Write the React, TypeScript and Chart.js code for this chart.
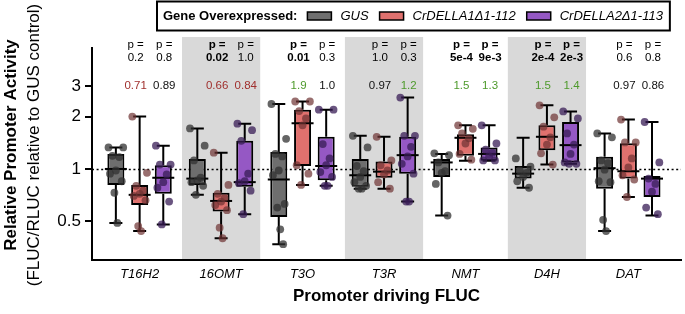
import React, { useEffect, useRef } from 'react';
import { Chart, registerables } from 'chart.js';

Chart.register(...registerables);

const categories = ['T16H2', '16OMT', 'T3O', 'T3R', 'NMT', 'D4H', 'DAT'];
const shadedCategories = ['16OMT', 'T3R', 'D4H'];
const seriesNames = ['GUS', 'CrDELLA1Δ1-112', 'CrDELLA2Δ1-113'];
const legendTitle = 'Gene Overexpressed:';
const yTickValues = [0.5, 1, 2, 3];
const xTitle = 'Promoter driving FLUC';
const yTitle1 = 'Relative Promoter Activity';
const yTitle2 = '(FLUC/RLUC relative to GUS control)';

// [min, q1, median, q3, max]
const gusBoxes = [
  [0.49, 0.81, 1.0, 1.22, 1.33],
  [0.71, 0.81, 0.88, 1.14, 1.71],
  [0.37, 0.53, 0.87, 1.25, 2.36],
  [0.77, 0.79, 0.92, 1.14, 1.55],
  [0.54, 0.9, 1.09, 1.14, 1.22],
  [0.78, 0.88, 0.94, 1.04, 1.51],
  [0.44, 0.77, 1.01, 1.175, 1.6],
];
const della1Boxes = [
  [0.44, 0.62, 0.71, 0.81, 2.0],
  [0.4, 0.57, 0.655, 0.73, 1.24],
  [0.81, 1.04, 1.83, 2.19, 2.44],
  [0.77, 0.89, 0.965, 1.105, 1.53],
  [1.115, 1.19, 1.51, 1.58, 1.78],
  [1.06, 1.28, 1.53, 1.78, 2.32],
  [0.69, 0.88, 0.97, 1.405, 1.92],
];
const della2Boxes = [
  [0.48, 0.72, 0.89, 1.05, 1.36],
  [0.55, 0.79, 0.84, 1.45, 1.82],
  [0.8, 0.86, 1.04, 1.53, 2.19],
  [0.65, 0.94, 1.2, 1.53, 2.57],
  [1.115, 1.115, 1.22, 1.33, 1.78],
  [1.07, 1.09, 1.37, 1.86, 2.14],
  [0.54, 0.69, 0.88, 0.91, 1.86],
];

// individual replicates
const gusPoints = [
  [1.33, 1.33, 1.19, 1.17, 0.98, 0.94, 0.85, 0.73, 0.49],
  [1.71, 1.36, 1.12, 0.89, 0.86, 0.84, 0.8, 0.71],
  [2.36, 1.49, 1.22, 1.18, 0.98, 0.92, 0.63, 0.6, 0.45, 0.37],
  [1.55, 1.33, 1.04, 0.97, 0.9, 0.84, 0.8, 0.77, 0.77],
  [1.23, 1.2, 1.09, 0.97, 0.95, 0.82, 0.54],
  [1.15, 1.03, 0.98, 0.95, 0.9, 0.85, 0.78],
  [1.6, 1.52, 1.12, 1.08, 0.99, 0.85, 0.84, 0.51, 0.44],
];
const della1Points = [
  [2.0, 0.95, 0.8, 0.75, 0.72, 0.7, 0.66, 0.47, 0.44],
  [1.24, 0.81, 0.72, 0.68, 0.65, 0.62, 0.58, 0.46, 0.4],
  [2.44, 2.44, 2.15, 1.95, 1.78, 1.05, 0.94, 0.81],
  [1.53, 1.12, 1.05, 0.98, 0.93, 0.84, 0.77],
  [1.78, 1.7, 1.6, 1.5, 1.4, 1.22, 1.13],
  [2.32, 1.98, 1.75, 1.52, 1.38, 1.23, 1.06],
  [1.92, 1.42, 1.42, 1.15, 1.02, 0.92, 0.87, 0.69],
];
const della2Points = [
  [1.36, 1.06, 1.06, 0.93, 0.84, 0.78, 0.65, 0.48],
  [1.82, 1.67, 1.45, 0.94, 0.85, 0.83, 0.75, 0.55],
  [2.19, 2.19, 1.39, 1.15, 1.05, 0.96, 0.9, 0.8, 0.8],
  [2.57, 1.55, 1.55, 1.34, 1.18, 1.07, 0.94, 0.65, 0.65],
  [1.78, 1.4, 1.29, 1.24, 1.18, 1.12, 1.12],
  [2.14, 1.95, 1.6, 1.38, 1.22, 1.09, 1.07, 1.07],
  [1.86, 1.09, 0.88, 0.82, 0.74, 0.6, 0.55],
];

const pDella1 = ['0.2', '0.02', '0.01', '1.0', '5e-4', '2e-4', '0.6'];
const pDella2 = ['0.8', '1.0', '0.3', '0.3', '9e-3', '2e-3', '0.8'];
const foldDella1 = ['0.71', '0.66', '1.9', '0.97', '1.5', '1.5', '0.97'];
const foldDella2 = ['0.89', '0.84', '1.0', '1.2', '1.3', '1.4', '0.86'];
const foldDella1Dir = ['down', 'down', 'up', 'ns', 'up', 'up', 'ns'];
const foldDella2Dir = ['ns', 'down', 'ns', 'up', 'up', 'up', 'ns'];

const FONT = '"Liberation Sans", Arial, sans-serif';
const OFFSETS = [-0.292, 0, 0.29];
const LABEL_SHIFT = [0, -4, 1];
const BOX_W = 22;
const CAP_W = 13;
const BAND_HALF = 0.48;
const FILLS = ['#6e6e6e', '#e0716e', '#9558c4'];
const DOTS = ['rgba(50,50,50,0.75)', 'rgba(110,50,50,0.7)', 'rgba(56,28,86,0.75)'];
const JITTER = [-0.75, 0.75, -0.35, 0.35, 0, -0.6, 0.6, -0.15, 0.15, 0.45];
const JITTER_SCALE = 0.12;
const FOLD_COLORS: Record<string, string> = { down: '#a0302e', up: '#4e9a2c', ns: '#111111' };

const allBoxes = [gusBoxes, della1Boxes, della2Boxes];
const allPoints = [gusPoints, della1Points, della2Points];

const boxPlugin = {
  id: 'boxExtras',
  beforeDraw(chart: any) {
    const { ctx, chartArea, scales } = chart;
    const x = scales.x;
    ctx.save();
    ctx.fillStyle = '#d9d9d9';
    shadedCategories.forEach((c) => {
      const i = categories.indexOf(c) + 1;
      const l = x.getPixelForValue(i - BAND_HALF);
      const r = x.getPixelForValue(i + BAND_HALF);
      ctx.fillRect(l, chartArea.top - 11, r - l, chartArea.bottom - chartArea.top + 11);
    });
    ctx.restore();
  },
  beforeDatasetsDraw(chart: any) {
    const { ctx, chartArea, scales } = chart;
    const x = scales.x;
    const y = scales.y;
    ctx.save();
    ctx.strokeStyle = '#000';
    ctx.lineWidth = 1.6;
    ctx.setLineDash([2, 2.6]);
    const y1 = Math.round(y.getPixelForValue(1)) + 0.5;
    ctx.beginPath();
    ctx.moveTo(chartArea.left, y1);
    ctx.lineTo(chartArea.right, y1);
    ctx.stroke();
    ctx.setLineDash([]);
    ctx.lineWidth = 2;
    allBoxes.forEach((b, s) => {
      b.forEach((st, i) => {
        const px = x.getPixelForValue(i + 1 + OFFSETS[s]);
        const pMin = y.getPixelForValue(st[0]);
        const pQ1 = y.getPixelForValue(st[1]);
        const pQ3 = y.getPixelForValue(st[3]);
        const pMax = y.getPixelForValue(st[4]);
        ctx.beginPath();
        ctx.moveTo(px, pQ3);
        ctx.lineTo(px, pMax);
        ctx.moveTo(px, pQ1);
        ctx.lineTo(px, pMin);
        ctx.moveTo(px - CAP_W / 2, pMax);
        ctx.lineTo(px + CAP_W / 2, pMax);
        ctx.moveTo(px - CAP_W / 2, pMin);
        ctx.lineTo(px + CAP_W / 2, pMin);
        ctx.stroke();
      });
    });
    ctx.restore();
  },
  afterDatasetDraw(chart: any, args: any) {
    if (args.index > 2) return;
    const s = args.index;
    const { ctx, scales } = chart;
    const x = scales.x;
    const y = scales.y;
    ctx.save();
    ctx.strokeStyle = '#000';
    ctx.lineWidth = 2;
    allBoxes[s].forEach((st, i) => {
      const px = x.getPixelForValue(i + 1 + OFFSETS[s]);
      const pm = y.getPixelForValue(st[2]);
      ctx.beginPath();
      ctx.moveTo(px - BOX_W / 2, pm);
      ctx.lineTo(px + BOX_W / 2, pm);
      ctx.stroke();
    });
    ctx.restore();
  },
  afterDraw(chart: any) {
    const { ctx, chartArea, scales } = chart;
    const x = scales.x;
    const top = chartArea.top;
    ctx.save();
    ctx.textAlign = 'center';
    ctx.textBaseline = 'middle';
    const pv = [pDella1, pDella2];
    const fv = [foldDella1, foldDella2];
    const fd = [foldDella1Dir, foldDella2Dir];
    [1, 2].forEach((s) => {
      categories.forEach((_, i) => {
        const px = x.getPixelForValue(i + 1 + OFFSETS[s]) + LABEL_SHIFT[s];
        const p = pv[s - 1][i];
        const bold = parseFloat(p) < 0.05;
        ctx.fillStyle = '#000';
        ctx.font = `${bold ? 'bold ' : ''}11.5px ${FONT}`;
        ctx.fillText('p =', px, top - 3);
        ctx.fillText(p, px, top + 10);
        ctx.font = `11.5px ${FONT}`;
        ctx.fillStyle = FOLD_COLORS[fd[s - 1][i]];
        ctx.fillText(fv[s - 1][i], px, top + 38);
      });
    });
    ctx.fillStyle = '#000';
    ctx.save();
    ctx.translate(11, (chartArea.top + chartArea.bottom) / 2 - 9);
    ctx.rotate(-Math.PI / 2);
    ctx.font = `bold 17px ${FONT}`;
    ctx.fillText(yTitle1, 0, 0);
    ctx.restore();
    ctx.save();
    ctx.translate(34, (chartArea.top + chartArea.bottom) / 2 - 9);
    ctx.rotate(-Math.PI / 2);
    ctx.font = `17px ${FONT}`;
    ctx.fillText(yTitle2, 0, 0);
    ctx.restore();
    // legend
    const legLeft = 157;
    const legTop = 1.5;
    const legH = 29;
    const cy = legTop + legH / 2;
    ctx.textAlign = 'left';
    ctx.font = `bold 13px ${FONT}`;
    let cx = legLeft + 6;
    ctx.fillText(legendTitle, cx, cy);
    cx += ctx.measureText(legendTitle).width + 10;
    seriesNames.forEach((n, s) => {
      ctx.fillStyle = FILLS[s];
      ctx.fillRect(cx, cy - 4, 24, 8);
      ctx.strokeStyle = '#000';
      ctx.lineWidth = 1.5;
      ctx.strokeRect(cx, cy - 4, 24, 8);
      cx += 24 + 9;
      ctx.fillStyle = '#000';
      ctx.font = `italic 13px ${FONT}`;
      ctx.fillText(n, cx, cy);
      cx += ctx.measureText(n).width + 11;
    });
    const legRight = cx - 11 + 7;
    ctx.strokeStyle = '#000';
    ctx.lineWidth = 2;
    ctx.strokeRect(legLeft, legTop, legRight - legLeft, legH);
    ctx.restore();
  },
};

export default function App() {
  const ref = useRef<HTMLCanvasElement>(null);
  useEffect(() => {
    document.body.style.margin = '0';
    const canvas = ref.current;
    if (!canvas) return;
    const datasets: any[] = [];
    allBoxes.forEach((b, s) => {
      datasets.push({
        type: 'bar',
        label: seriesNames[s],
        data: b.map((st, i) => ({ x: i + 1 + OFFSETS[s], y: [st[1], st[3]] })),
        backgroundColor: FILLS[s],
        borderColor: '#000',
        borderWidth: 2,
        borderSkipped: false,
        maxBarThickness: BOX_W,
        grouped: false,
        order: 1,
      });
    });
    allPoints.forEach((p, s) => {
      datasets.push({
        type: 'scatter',
        label: seriesNames[s] + ' replicates',
        data: p.flatMap((vals, i) =>
          vals.map((v, k) => ({
            x: i + 1 + OFFSETS[s] + JITTER[k % JITTER.length] * JITTER_SCALE,
            y: v,
          }))
        ),
        pointRadius: 3.9,
        pointBackgroundColor: DOTS[s],
        pointBorderWidth: 0,
        order: 0,
      });
    });
    const chart = new Chart(canvas, {
      type: 'bar',
      data: { datasets },
      options: {
        responsive: false,
        animation: false,
        devicePixelRatio: 1,
        events: [],
        layout: { padding: { top: 48, left: 0, right: 0, bottom: 0 } },
        plugins: { legend: { display: false }, tooltip: { enabled: false } },
        scales: {
          x: {
            type: 'linear',
            offset: false,
            min: 0.415,
            max: 7.646,
            afterFit: (s: any) => {
              s.height = 54;
            },
            afterBuildTicks: (s: any) => {
              s.ticks = categories.map((_, i) => ({ value: i + 1 }));
            },
            ticks: {
              autoSkip: false,
              maxRotation: 0,
              padding: 7,
              color: '#000',
              font: { family: FONT, size: 13, style: 'italic' },
              callback: (v: any) => categories[Math.round(Number(v)) - 1] ?? '',
            },
            grid: { display: false, drawTicks: false, offset: false },
            border: { display: true, color: '#000', width: 2 },
            title: {
              display: true,
              text: xTitle,
              color: '#000',
              font: { family: FONT, size: 17, weight: 'bold' },
              padding: { top: 0, bottom: 7 },
            },
          },
          y: {
            type: 'logarithmic',
            min: 0.305,
            max: 4.95,
            afterFit: (s: any) => {
              s.width = 92;
            },
            afterBuildTicks: (s: any) => {
              s.ticks = yTickValues.map((v) => ({ value: v }));
            },
            ticks: {
              color: '#000',
              padding: 4,
              font: { family: FONT, size: 17 },
              callback: (v: any) => String(v),
            },
            grid: { drawOnChartArea: false, drawTicks: true, tickLength: 7, color: '#000', lineWidth: 2 },
            border: { display: true, color: '#000', width: 2 },
          },
        },
      } as any,
      plugins: [boxPlugin],
    });
    return () => chart.destroy();
  }, []);
  return <canvas ref={ref} width={685} height={314} style={{ display: 'block', width: 685, height: 314 }} />;
}
